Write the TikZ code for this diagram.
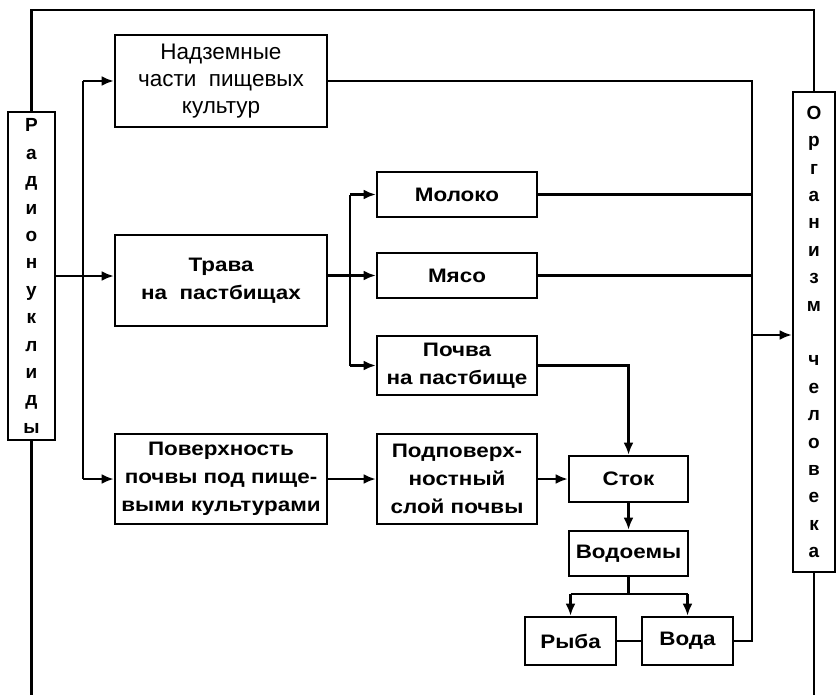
\documentclass[tikz,border=0pt]{standalone}
\usepackage{fontspec}
\setmainfont{Liberation Sans}
\newfontfamily\wideface[FakeStretch=1.15]{Liberation Sans}
\usetikzlibrary{arrows.meta}
\tikzset{
  box/.style={draw, line width=2.6pt, align=center, inner sep=2pt,
    font=\wideface\bfseries\fontsize{19.5}{28}\selectfont},
  plainbox/.style={box, font=\fontsize{22.5}{27}\selectfont},
  vbox/.style={draw, line width=2.6pt, align=center, inner sep=0pt,
    font=\bfseries\fontsize{19}{27.4}\selectfont},
  conn/.style={line width=2.4pt},
  arr/.style={conn, -{Latex[length=12pt,width=10pt]}}
}
\begin{document}
\begin{tikzpicture}[x=1pt,y=-1pt]
\useasboundingbox (0,0) rectangle (837,695);
% side boxes
\node[vbox, minimum width=47pt, minimum height=328pt] (rad) at (31.5,276)
  {Р\\а\\д\\и\\о\\н\\у\\к\\л\\и\\д\\ы};
\node[vbox, minimum width=42pt, minimum height=480pt] (org) at (814,332)
  {О\\р\\г\\а\\н\\и\\з\\м\\[27.4pt]ч\\е\\л\\о\\в\\е\\к\\а};
% left column
\node[plainbox, minimum width=212pt, minimum height=92pt] (nad) at (221,81)
  {Надземные\\части\ \ пищевых\\культур};
\node[box, minimum width=212pt, minimum height=91pt] (trava) at (221,280.5)
  {Трава\\на\ \ пастбищах};
\node[box, minimum width=212pt, minimum height=90pt] (pov) at (221,479)
  {Поверхность\\почвы под пище-\\выми культурами};
% middle column
\node[box, minimum width=160pt, minimum height=45pt] (moloko) at (457,194.5) {Молоко};
\node[box, minimum width=160pt, minimum height=45pt] (myaso) at (457,275.5) {Мясо};
\node[box, minimum width=160pt, minimum height=59pt] (pochva) at (457,365.5)
  {Почва\\на пастбище};
\node[box, minimum width=160pt, minimum height=90pt] (podp) at (457,479)
  {Подповерх-\\ностный\\слой почвы};
% right cascade
\node[box, minimum width=119pt, minimum height=46pt] (stok) at (628.5,479) {Сток};
\node[box, minimum width=119pt, minimum height=45pt] (vodoem) at (628.5,553.5) {Водоемы};
\node[box, minimum width=91pt, minimum height=48pt] (ryba) at (570.5,641) {Рыба};
\node[box, minimum width=91pt, minimum height=48pt] (voda) at (687.5,641) {Вода};
% helper coordinates
\coordinate (top) at (0,10);
\coordinate (bot) at (0,695);
\coordinate (b1) at (83,0);
\coordinate (b2) at (350,0);
\coordinate (b3) at (752,0);
\coordinate (jn) at (752,335);
\coordinate (sp) at (628.5,594);
% frame lines
\draw[conn] (rad.north) -- (rad.north |- top) -- (org.north |- top) -- (org.north);
\draw[conn] (rad.south) -- (rad.south |- bot);
\draw[conn] (org.south) -- (org.south |- bot);
% from radionuclides
\draw[arr] (rad.east) -- (trava.west |- rad.east);
\draw[conn] (b1 |- nad.west) -- (b1 |- pov.west);
\draw[arr] (b1 |- nad.west) -- (nad.west);
\draw[arr] (b1 |- pov.west) -- (pov.west);
% from grass
\draw[conn] (trava.east |- myaso) -- (b2 |- myaso);
\draw[conn] (b2 |- moloko) -- (b2 |- pochva.west);
\draw[arr] (b2 |- moloko) -- (moloko.west);
\draw[arr] (b2 |- myaso) -- (myaso.west);
\draw[arr] (b2 |- pochva.west) -- (pochva.west);
% to organism
\draw[conn] (nad.east) -- (b3 |- nad.east) -- (b3 |- voda.east) -- (voda.east);
\draw[conn] (moloko.east) -- (b3 |- moloko.east);
\draw[conn] (myaso.east) -- (b3 |- myaso.east);
\draw[arr] (jn) -- (org.west |- jn);
% soil and water chain
\draw[arr] (pochva.east) -| (stok.north);
\draw[arr] (pov.east) -- (podp.west);
\draw[arr] (podp.east) -- (stok.west);
\draw[arr] (stok.south) -- (vodoem.north);
\draw[conn] (vodoem.south) -- (sp);
\draw[conn] (ryba.north |- sp) -- (voda.north |- sp);
\draw[arr] (ryba.north |- sp) -- (ryba.north);
\draw[arr] (voda.north |- sp) -- (voda.north);
\draw[conn] (ryba.east) -- (voda.west);
\end{tikzpicture}
\end{document}
